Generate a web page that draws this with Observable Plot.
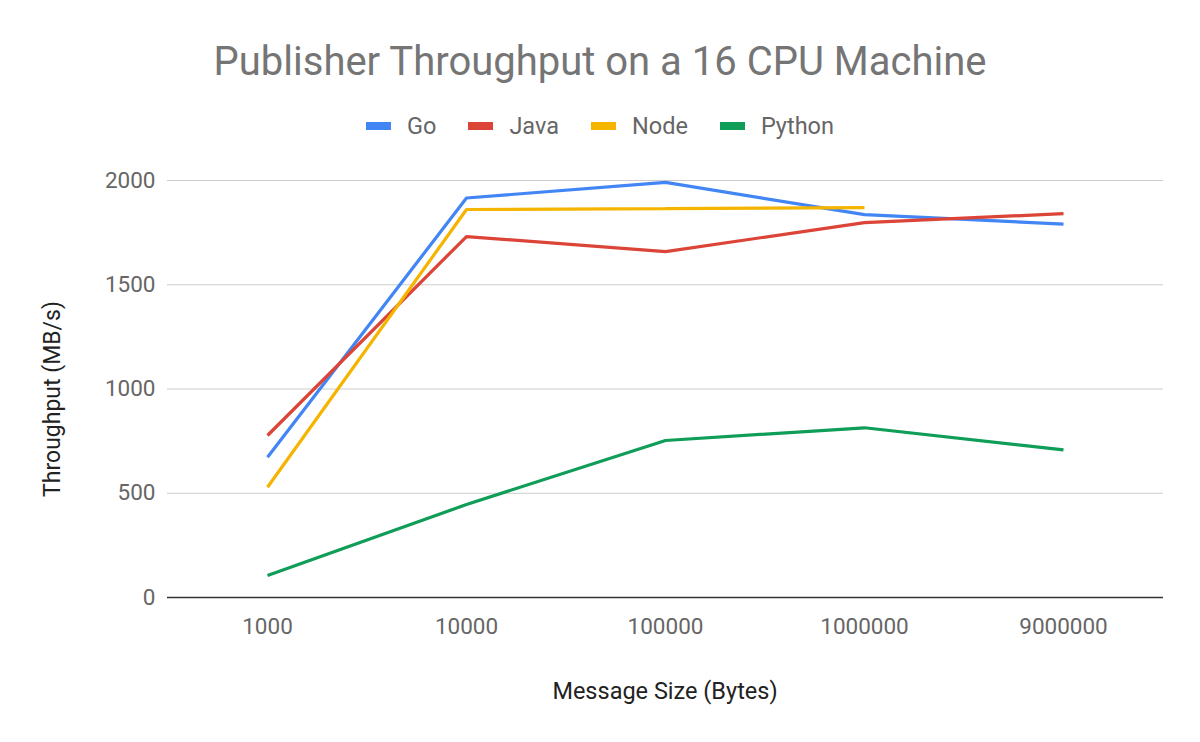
<!DOCTYPE html>
<html>
<head>
<meta charset="utf-8">
<script src="https://cdn.jsdelivr.net/npm/d3@7"></script>
<script src="https://cdn.jsdelivr.net/npm/@observablehq/plot@0.6"></script>
<style>
  body { margin: 0; background: #fff; font-family: Roboto, "Noto Sans", sans-serif; }
  #wrap { width: 1200px; }
  #title { height: 95px; box-sizing: border-box; padding-top: 39px; text-align: center; font-size: 40px; color: #757575; line-height: 46px; }
  #legend { height: 60px; display: flex; justify-content: center; align-items: flex-start; font-size: 23.5px; color: #666; line-height: 26px; padding-top: 18px; box-sizing: border-box; }
  .item { display: flex; align-items: center; margin: 0 16px; }
  .sw { width: 25px; height: 8px; margin-right: 16px; }
</style>
</head>
<body>
<div id="wrap">
  <div id="title">Publisher Throughput on a 16 CPU Machine</div>
  <div id="legend"></div>
  <div id="chart"></div>
</div>
<script>
const sizes = ["1000", "10000", "100000", "1000000", "9000000"];
const series = ["Go", "Java", "Node", "Python"];
const goValues = [673, 1916, 1991, 1836, 1791];
const javaValues = [777, 1731, 1659, 1798, 1841];
const nodeValues = [529, 1861, 1865, 1870];
const pythonValues = [105, 446, 753, 814, 708];
const yTicks = [0, 500, 1000, 1500, 2000];
const colors = ["#4285f4", "#db4437", "#f4b400", "#0f9d58"];

const valuesBySeries = [goValues, javaValues, nodeValues, pythonValues];
const data = [];
series.forEach((s, i) => {
  valuesBySeries[i].forEach((v, j) => data.push({series: s, size: sizes[j], value: v}));
});

const legend = document.getElementById("legend");
series.forEach((s, i) => {
  const it = document.createElement("div");
  it.className = "item";
  it.innerHTML = `<span class="sw" style="background:${colors[i]}"></span><span>${s}</span>`;
  legend.appendChild(it);
});

const chart = Plot.plot({
  width: 1200,
  height: 587,
  marginTop: 25,
  marginBottom: 145,
  marginLeft: 167,
  marginRight: 37,
  style: {fontFamily: "Roboto, sans-serif", fontSize: "22px", color: "#666", background: "#fff"},
  x: {type: "point", domain: sizes, padding: 0.5},
  y: {domain: [0, 2000]},
  color: {domain: series, range: colors},
  marks: [
    Plot.gridY(yTicks, {stroke: "#ccc", strokeOpacity: 1, strokeWidth: 1}),
    Plot.ruleY([0], {stroke: "#333", strokeWidth: 1.5}),
    Plot.axisY(yTicks, {tickSize: 0, tickPadding: 12, fill: "#666", fontSize: 22.5, tickFormat: d => String(d), label: null}),
    Plot.axisX(sizes, {tickSize: 0, tickPadding: 21, fill: "#666", fontSize: 22.5, label: null}),
    Plot.line(data, {x: "size", y: "value", z: "series", stroke: "series", strokeWidth: 3.2, strokeLinejoin: "miter", strokeLinecap: "butt"})
  ]
});
document.getElementById("chart").appendChild(chart);

// axis titles as real text in the SVG
const ns = "http://www.w3.org/2000/svg";
const yl = document.createElementNS(ns, "text");
yl.setAttribute("transform", "translate(52,244) rotate(-90)");
yl.setAttribute("text-anchor", "middle");
yl.setAttribute("dominant-baseline", "central");
yl.setAttribute("font-size", "23");
yl.setAttribute("fill", "#222");
yl.textContent = "Throughput (MB/s)";
chart.appendChild(yl);
const xl = document.createElementNS(ns, "text");
xl.setAttribute("x", 665);
xl.setAttribute("y", 536);
xl.setAttribute("text-anchor", "middle");
xl.setAttribute("dominant-baseline", "central");
xl.setAttribute("font-size", "23.5");
xl.setAttribute("fill", "#222");
xl.textContent = "Message Size (Bytes)";
chart.appendChild(xl);
</script>
</body>
</html>
